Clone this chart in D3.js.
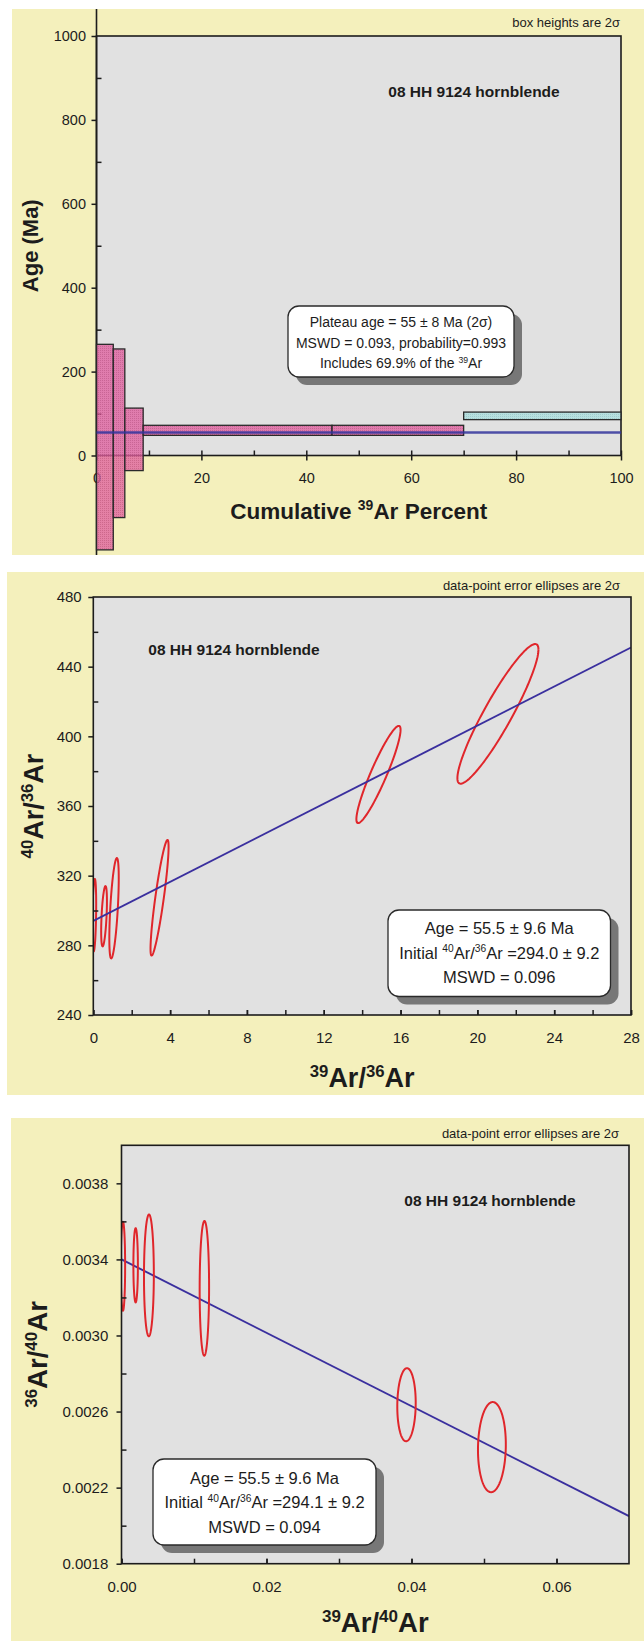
<!DOCTYPE html>
<html>
<head>
<meta charset="utf-8">
<script src="https://cdn.jsdelivr.net/npm/d3@7"></script>
<style>
  html, body { margin: 0; padding: 0; background: #ffffff; }
  svg text { font-family: "Liberation Sans", Arial, sans-serif; fill: #1c1c1c; }
</style>
</head>
<body>
<svg id="fig" width="644" height="1641"></svg>
<script>
// ---------- Step-heating age spectrum ----------
const stepCumPct   = [0, 3.2, 5.4, 8.9, 44.9, 70.0, 100];   // cumulative 39Ar released (%)
const stepAge      = [20, 53, 38.5, 60, 60, 94.5];          // apparent age (Ma)
const stepErr2s    = [245, 201, 74.5, 12, 12, 9];           // 2-sigma half height (Ma)
const stepInPlateau = [true, true, true, true, true, false];
const plateauAge   = 55;
const ageTicks     = [0, 200, 400, 600, 800, 1000];
const ageMinor     = [100, 300, 500, 700, 900];
const pctTicks     = [0, 20, 40, 60, 80, 100];
const pctMinor     = [10, 30, 50, 70, 90];

// ---------- Normal isochron (40Ar/36Ar vs 39Ar/36Ar) ----------
const isoX    = [0.05, 0.56, 1.08, 3.45, 14.85, 21.07];
const isoXErr = [0.10, 0.15, 0.245, 0.47, 1.15, 2.11];
const isoY    = [297.3, 296.7, 301.3, 307.3, 378.1, 412.9];
const isoYErr = [20.8, 17.3, 28.8, 33.2, 27.9, 40.1];
const isoRho  = [0.3, 0.5, 0.6, 0.88, 0.92, 0.92];
const isoLineX = [0, 28];
const isoLineY = [294.0, 451.0];
const isoYTicks = [240, 280, 320, 360, 400, 440, 480];
const isoYMinor = [260, 300, 340, 380, 420, 460];
const isoXTicks = [0, 4, 8, 12, 16, 20, 24, 28];
const isoXMinor = [2, 6, 10, 14, 18, 22, 26];

// ---------- Inverse isochron (36Ar/40Ar vs 39Ar/40Ar) ----------
const invX    = [0.0002, 0.00195, 0.00378, 0.01143, 0.03931, 0.05109];
const invXErr = [0.0003, 0.00031, 0.00068, 0.00065, 0.00127, 0.00192];
const invY    = [0.003364, 0.003369, 0.003316, 0.003248, 0.002636, 0.002413];
const invYErr = [0.000234, 0.000195, 0.00032, 0.000354, 0.000192, 0.000237];
const invRho  = [0, 0, 0.02, 0.02, 0.05, 0.06];
const invLineX = [0, 0.07];
const invLineY = [0.0034, 0.00205];
const invYTicks = [0.0018, 0.0022, 0.0026, 0.0030, 0.0034, 0.0038];
const invYMinor = [0.0020, 0.0024, 0.0028, 0.0032, 0.0036];
const invXTicks = [0, 0.02, 0.04, 0.06];
const invXMinor = [0.01, 0.03, 0.05];

// ---------- shared styles ----------
const YELLOW = "#f4f0bc", PLOT_BG = "#e1e1e1", INK = "#1c1c1c";
const RED = "#e0262b", BLUE = "#3a2f9e";

const svg = d3.select("#fig");
const defs = svg.append("defs");

function dotPattern(id, base, dot) {
  const p = defs.append("pattern").attr("id", id)
    .attr("width", 2).attr("height", 2).attr("patternUnits", "userSpaceOnUse");
  p.append("rect").attr("width", 2).attr("height", 2).attr("fill", base);
  p.append("rect").attr("width", 1).attr("height", 1).attr("fill", dot);
}
dotPattern("pinkDots", "#e0609f", "#c2427f");
dotPattern("cyanDots", "#abdede", "#8ec8c8");

// text with superscript pieces: parts = [[string, isSup], ...]
function rich(sel, parts, size) {
  const up = size * 0.38;
  let shift = 0;
  parts.forEach(([t, isSup]) => {
    const ts = sel.append("tspan").text(t);
    if (isSup) {
      ts.attr("font-size", size * 0.62).attr("dy", -up - shift);
      shift = -up;
    } else {
      ts.attr("dy", -shift);
      shift = 0;
    }
  });
  return sel;
}

function panelFrame(bg, x, y) {
  const g = svg.append("g");
  g.append("rect").attr("x", bg.x).attr("y", bg.y).attr("width", bg.w).attr("height", bg.h)
    .attr("fill", YELLOW);
  const [x0, x1] = x.range(), [y0, y1] = y.range();
  g.append("rect").attr("x", x0).attr("y", y1).attr("width", x1 - x0).attr("height", y0 - y1)
    .attr("fill", PLOT_BG);
  return g;
}

function border(g, x, y) {
  const [x0, x1] = x.range(), [y0, y1] = y.range();
  g.append("rect").attr("x", x0).attr("y", y1).attr("width", x1 - x0).attr("height", y0 - y1)
    .attr("fill", "none").attr("stroke", INK).attr("stroke-width", 1.6);
}

function styleAxis(a, fontSize) {
  a.select(".domain").remove();
  a.selectAll(".tick line").attr("stroke", INK).attr("stroke-width", 1.5);
  a.selectAll(".tick text").attr("fill", INK).attr("font-size", fontSize)
    .style("font-family", '"Liberation Sans", Arial, sans-serif');
}

function axes(g, x, y, o) {
  const [x0] = x.range(), [y0] = y.range();
  // y: major ticks outward with labels, minor ticks inward
  styleAxis(g.append("g").attr("transform", `translate(${x0},0)`)
    .call(d3.axisLeft(y).tickValues(o.yMajor).tickSize(5).tickPadding(o.yPad).tickFormat(o.yFmt)), o.fs);
  styleAxis(g.append("g").attr("transform", `translate(${x0},0)`)
    .call(d3.axisLeft(y).tickValues(o.yMinor).tickSize(-5).tickFormat("")), o.fs);
  // x ticks
  styleAxis(g.append("g").attr("transform", `translate(0,${y0})`)
    .call(d3.axisBottom(x).tickValues(o.xMajor).tickSize(o.xMajorOut).tickPadding(o.xPad).tickFormat(o.xFmt)), o.fs);
  styleAxis(g.append("g").attr("transform", `translate(0,${y0})`)
    .call(d3.axisBottom(x).tickValues(o.xMajor).tickSize(-5).tickFormat("")), o.fs);
  styleAxis(g.append("g").attr("transform", `translate(0,${y0})`)
    .call(d3.axisBottom(x).tickValues(o.xMinor).tickSize(-5).tickFormat("")), o.fs);
}

function resultBox(g, box, lines, size, lineGap) {
  g.append("rect").attr("x", box.x + 8).attr("y", box.y + 8).attr("width", box.w).attr("height", box.h)
    .attr("rx", 11).attr("fill", "#777777");
  g.append("rect").attr("x", box.x).attr("y", box.y).attr("width", box.w).attr("height", box.h)
    .attr("rx", 11).attr("fill", "#ffffff").attr("stroke", "#2a2a2a").attr("stroke-width", 1.3);
  lines.forEach((parts, i) => {
    const t = g.append("text").attr("x", box.x + box.w / 2).attr("y", box.firstBase + i * lineGap)
      .attr("text-anchor", "middle").attr("font-size", size);
    rich(t, parts, size);
  });
}

function ellipsePath(x, y, cx, cy, ex, ey, rho) {
  const n = 160, pts = [];
  const s = Math.sqrt(1 - rho * rho);
  for (let i = 0; i <= n; i++) {
    const t = (i / n) * 2 * Math.PI;
    pts.push([cx + ex * Math.cos(t), cy + ey * (rho * Math.cos(t) + s * Math.sin(t))]);
  }
  return d3.line().x(d => x(d[0])).y(d => y(d[1]))(pts);
}

function clipFor(id, x, y) {
  const [x0, x1] = x.range(), [y0, y1] = y.range();
  defs.append("clipPath").attr("id", id).append("rect")
    .attr("x", x0).attr("y", y1).attr("width", x1 - x0).attr("height", y0 - y1);
  return `url(#${id})`;
}

// =====================================================================
// Panel 1: age spectrum
// =====================================================================
{
  const x = d3.scaleLinear().domain([0, 100]).range([96.5, 621]);
  const y = d3.scaleLinear().domain([0, 1000]).range([455.5, 36]);
  const g = panelFrame({ x: 12, y: 9, w: 632, h: 546 }, x, y);
  border(g, x, y);
  // left axis runs the full height of the panel
  g.append("line").attr("x1", x(0)).attr("x2", x(0)).attr("y1", 9).attr("y2", 555)
    .attr("stroke", INK).attr("stroke-width", 1.6);
  axes(g, x, y, {
    yMajor: ageTicks, yMinor: ageMinor, yPad: 5.5, yFmt: d3.format("d"),
    xMajor: pctTicks, xMinor: pctMinor, xMajorOut: 5, xPad: 12.5, xFmt: d3.format("d"), fs: 14.5
  });

  const steps = stepAge.map((a, i) => ({
    x0: stepCumPct[i], x1: stepCumPct[i + 1], age: a, err: stepErr2s[i], inPlat: stepInPlateau[i]
  }));
  g.append("g").selectAll("rect").data(steps).join("rect")
    .attr("x", d => x(d.x0)).attr("width", d => x(d.x1) - x(d.x0))
    .attr("y", d => y(d.age + d.err)).attr("height", d => y(d.age - d.err) - y(d.age + d.err))
    .attr("fill", d => d.inPlat ? "url(#pinkDots)" : "url(#cyanDots)")
    .attr("fill-opacity", 0.78)
    .attr("stroke", "#2a2a2a").attr("stroke-width", 1.3);

  g.append("line").attr("x1", x(0)).attr("x2", x(100))
    .attr("y1", y(plateauAge)).attr("y2", y(plateauAge))
    .attr("stroke", "#33349c").attr("stroke-width", 2.4).attr("stroke-opacity", 0.85);

  resultBox(g, { x: 288, y: 306, w: 226, h: 71, firstBase: 327 }, [
    [["Plateau age = 55 \u00b1 8 Ma  (2\u03c3)", false]],
    [["MSWD = 0.093, probability=0.993", false]],
    [["Includes 69.9% of the ", false], ["39", true], ["Ar", false]]
  ], 14, 20.5);

  g.append("text").attr("x", 620).attr("y", 27).attr("text-anchor", "end").attr("font-size", 13)
    .text("box heights are 2\u03c3");
  g.append("text").attr("x", 474).attr("y", 97).attr("text-anchor", "middle")
    .attr("font-size", 15.5).attr("font-weight", "bold").text("08 HH 9124 hornblende");
  g.append("text").attr("transform", `translate(38,${(y(0) + y(1000)) / 2}) rotate(-90)`)
    .attr("text-anchor", "middle").attr("font-size", 22).attr("font-weight", "bold").text("Age (Ma)");
  rich(g.append("text").attr("x", (x(0) + x(100)) / 2).attr("y", 519).attr("text-anchor", "middle")
    .attr("font-size", 22.5).attr("font-weight", "bold"),
    [["Cumulative ", false], ["39", true], ["Ar Percent", false]], 22.5);
}

// =====================================================================
// Panel 2: normal isochron
// =====================================================================
{
  const x = d3.scaleLinear().domain([0, 28]).range([93.3, 631]);
  const y = d3.scaleLinear().domain([240, 480]).range([1015, 597]);
  const g = panelFrame({ x: 7, y: 572, w: 637, h: 523 }, x, y);
  const clip = clipFor("clipIso", x, y);

  g.append("g").attr("clip-path", clip).selectAll("path").data(isoX).join("path")
    .attr("d", (d, i) => ellipsePath(x, y, isoX[i], isoY[i], isoXErr[i], isoYErr[i], isoRho[i]))
    .attr("fill", "none").attr("stroke", RED).attr("stroke-width", 2);

  g.append("path").attr("clip-path", clip)
    .attr("d", d3.line().x(d => x(d[0])).y(d => y(d[1]))(isoLineX.map((v, i) => [v, isoLineY[i]])))
    .attr("stroke", BLUE).attr("stroke-width", 1.9).attr("fill", "none");

  border(g, x, y);
  axes(g, x, y, {
    yMajor: isoYTicks, yMinor: isoYMinor, yPad: 6.6, yFmt: d3.format("d"),
    xMajor: isoXTicks, xMinor: isoXMinor, xMajorOut: -5, xPad: 17.5, xFmt: d3.format("d"), fs: 15
  });

  resultBox(g, { x: 388, y: 910, w: 222.5, h: 86.5, firstBase: 934 }, [
    [["Age = 55.5 \u00b1 9.6 Ma", false]],
    [["Initial ", false], ["40", true], ["Ar/", false], ["36", true], ["Ar =294.0 \u00b1 9.2", false]],
    [["MSWD = 0.096", false]]
  ], 16.5, 24.5);

  g.append("text").attr("x", 620).attr("y", 590).attr("text-anchor", "end").attr("font-size", 13)
    .text("data-point error ellipses are 2\u03c3");
  g.append("text").attr("x", 234).attr("y", 655).attr("text-anchor", "middle")
    .attr("font-size", 15.5).attr("font-weight", "bold").text("08 HH 9124 hornblende");
  rich(g.append("text").attr("transform", `translate(43,${(y(240) + y(480)) / 2}) rotate(-90)`)
    .attr("text-anchor", "middle").attr("font-size", 27).attr("font-weight", "bold"),
    [["40", true], ["Ar/", false], ["36", true], ["Ar", false]], 27);
  rich(g.append("text").attr("x", (x(0) + x(28)) / 2).attr("y", 1087).attr("text-anchor", "middle")
    .attr("font-size", 27).attr("font-weight", "bold"),
    [["39", true], ["Ar/", false], ["36", true], ["Ar", false]], 27);
}

// =====================================================================
// Panel 3: inverse isochron
// =====================================================================
{
  const x = d3.scaleLinear().domain([0, 0.07]).range([121.5, 629]);
  const y = d3.scaleLinear().domain([0.0018, 0.0040]).range([1563.7, 1145.3]);
  const g = panelFrame({ x: 11, y: 1118, w: 633, h: 523 }, x, y);
  const clip = clipFor("clipInv", x, y);

  g.append("path").attr("clip-path", clip)
    .attr("d", d3.line().x(d => x(d[0])).y(d => y(d[1]))(invLineX.map((v, i) => [v, invLineY[i]])))
    .attr("stroke", BLUE).attr("stroke-width", 1.9).attr("fill", "none");

  g.append("g").attr("clip-path", clip).selectAll("path").data(invX).join("path")
    .attr("d", (d, i) => ellipsePath(x, y, invX[i], invY[i], invXErr[i], invYErr[i], invRho[i]))
    .attr("fill", "none").attr("stroke", RED).attr("stroke-width", 2);

  border(g, x, y);
  axes(g, x, y, {
    yMajor: invYTicks, yMinor: invYMinor, yPad: 8.2, yFmt: d3.format(".4f"),
    xMajor: invXTicks, xMinor: invXMinor, xMajorOut: -5, xPad: 17.5, xFmt: d3.format(".2f"), fs: 15
  });

  resultBox(g, { x: 153, y: 1459, w: 223, h: 86, firstBase: 1483.5 }, [
    [["Age = 55.5 \u00b1 9.6 Ma", false]],
    [["Initial ", false], ["40", true], ["Ar/", false], ["36", true], ["Ar =294.1 \u00b1 9.2", false]],
    [["MSWD = 0.094", false]]
  ], 16.5, 24.5);

  g.append("text").attr("x", 619).attr("y", 1138).attr("text-anchor", "end").attr("font-size", 13)
    .text("data-point error ellipses are 2\u03c3");
  g.append("text").attr("x", 490).attr("y", 1205.5).attr("text-anchor", "middle")
    .attr("font-size", 15.5).attr("font-weight", "bold").text("08 HH 9124 hornblende");
  rich(g.append("text").attr("transform", `translate(47,${(y(0.0018) + y(0.0040)) / 2}) rotate(-90)`)
    .attr("text-anchor", "middle").attr("font-size", 27.5).attr("font-weight", "bold"),
    [["36", true], ["Ar/", false], ["40", true], ["Ar", false]], 27.5);
  rich(g.append("text").attr("x", (x(0) + x(0.07)) / 2).attr("y", 1632).attr("text-anchor", "middle")
    .attr("font-size", 27.5).attr("font-weight", "bold"),
    [["39", true], ["Ar/", false], ["40", true], ["Ar", false]], 27.5);
}
</script>
</body>
</html>
